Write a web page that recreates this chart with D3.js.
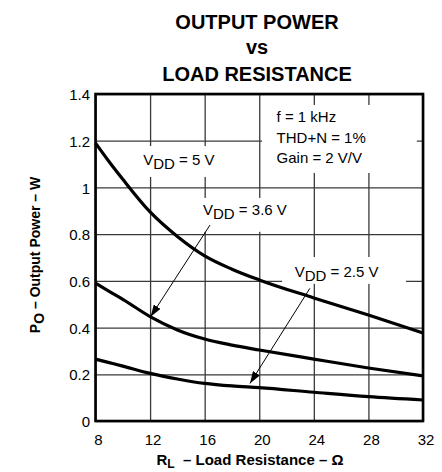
<!DOCTYPE html>
<html>
<head>
<meta charset="utf-8">
<script src="https://cdn.jsdelivr.net/npm/d3@7"></script>
<style>
  body { margin: 0; background: #fff; }
  svg { font-family: "Liberation Sans", Arial, sans-serif; }
</style>
</head>
<body>
<script>
    'use strict';

    // load resistance (ohm)
    var loads = [8, 9, 10, 12, 14, 16, 18, 20, 24, 28, 32];
    // output power (W) per supply voltage
    var p5v0 = [1.19, 1.11, 1.035, 0.895, 0.79, 0.707, 0.65, 0.604, 0.527, 0.454, 0.377];
    var p3v6 = [0.59, 0.555, 0.521, 0.447, 0.39, 0.351, 0.325, 0.304, 0.265, 0.227, 0.193];
    var p2v5 = [0.265, 0.25, 0.235, 0.204, 0.18, 0.161, 0.15, 0.143, 0.123, 0.104, 0.09];

    var xTicks = [8, 12, 16, 20, 24, 28, 32];
    var yTicks = [0, 0.2, 0.4, 0.6, 0.8, 1, 1.2, 1.4];
    var yTickLabels = ['0', '0.2', '0.4', '0.6', '0.8', '1', '1.2', '1.4'];

(function () {
    var width = 442;
    var height = 472;
    var pl = 95.5, pr = 423, pt = 94, pb = 421;

    var x = d3.scaleLinear().domain([8, 32]).range([pl, pr]);
    var y = d3.scaleLinear().domain([0, 1.4]).range([pb, pt]);

    var svg = d3.select('body')
        .append('svg')
        .attr('width', width)
        .attr('height', height)
        ;

    svg.append('defs')
        .append('marker')
        .attr('id', 'head')
        .attr('viewBox', '0 0 12 8')
        .attr('refX', 12)
        .attr('refY', 4)
        .attr('markerWidth', 12)
        .attr('markerHeight', 8)
        .attr('markerUnits', 'userSpaceOnUse')
        .attr('orient', 'auto')
        .append('path')
        .attr('d', 'M0,0 L12,4 L0,8 Z')
        .attr('fill', '#000')
        ;

    // titles
    var title = svg.append('g')
        .attr('font-weight', 'bold')
        .attr('font-size', 20)
        .attr('text-anchor', 'middle')
        ;
    title.append('text').attr('x', 257).attr('y', 29).text('OUTPUT POWER');
    title.append('text').attr('x', 257).attr('y', 54).text('vs');
    title.append('text').attr('x', 257).attr('y', 81).text('LOAD RESISTANCE');

    // grid + tick labels
    var gx = svg.append('g')
        .attr('transform', 'translate(0,' + pb + ')')
        .call(d3.axisBottom(x).tickValues(xTicks).tickSize(-(pb - pt)).tickPadding(0))
        ;
    var gy = svg.append('g')
        .attr('transform', 'translate(' + pl + ',0)')
        .call(d3.axisLeft(y).tickValues(yTicks).tickSize(-(pr - pl)).tickPadding(0)
            .tickFormat(function (d, i) { return yTickLabels[i]; }))
        ;
    [gx, gy].forEach(function (g) {
        g.select('.domain').remove();
        g.selectAll('line').attr('stroke', '#3a3a3a').attr('stroke-width', 1.3);
        g.selectAll('text')
            .attr('fill', '#000')
            .attr('font-size', 15)
            .attr('font-family', '"Liberation Sans", Arial, sans-serif');
    });
    gx.selectAll('text').attr('y', 24).attr('dy', 0).attr('dx', 2.5);
    gy.selectAll('text').attr('x', -5.5).attr('dy', '0.38em');

    // white boxes behind labels (data units)
    var boxes = [
        [11.26, 17.12, 1.045, 1.177],
        [15.6, 22.6, 0.81, 0.955],
        [21.67, 30.75, 0.587, 0.702],
        [20.2, 31.55, 1.062, 1.353]
    ];
    svg.append('g').selectAll('rect')
        .data(boxes)
        .enter()
        .append('rect')
        .attr('x', function (b) { return x(b[0]); })
        .attr('width', function (b) { return x(b[1]) - x(b[0]); })
        .attr('y', function (b) { return y(b[3]); })
        .attr('height', function (b) { return y(b[2]) - y(b[3]); })
        .attr('fill', '#fff')
        ;

    // curves
    var line = d3.line()
        .x(function (d, i) { return x(loads[i]); })
        .y(function (d) { return y(d); })
        .curve(d3.curveMonotoneX)
        ;
    svg.append('g').selectAll('path')
        .data([p5v0, p3v6, p2v5])
        .enter()
        .append('path')
        .attr('d', line)
        .attr('fill', 'none')
        .attr('stroke', '#000')
        .attr('stroke-width', 3.2)
        ;

    // frame
    svg.append('rect')
        .attr('x', pl).attr('y', pt)
        .attr('width', pr - pl).attr('height', pb - pt)
        .attr('fill', 'none')
        .attr('stroke', '#000')
        .attr('stroke-width', 2.6)
        ;

    // arrows
    var arrows = [
        [16.39, 0.839, 12.04, 0.4465],
        [23.71, 0.568, 19.32, 0.161]
    ];
    svg.append('g').selectAll('line')
        .data(arrows)
        .enter()
        .append('line')
        .attr('x1', function (a) { return x(a[0]); })
        .attr('y1', function (a) { return y(a[1]); })
        .attr('x2', function (a) { return x(a[2]); })
        .attr('y2', function (a) { return y(a[3]); })
        .attr('stroke', '#000')
        .attr('stroke-width', 1)
        .attr('marker-end', 'url(#head)')
        ;

    // curve labels
    var labels = [
        { x: 11.5, y: 1.096, v: '5 V' },
        { x: 15.88, y: 0.882, v: '3.6 V' },
        { x: 22.6, y: 0.618, v: '2.5 V' }
    ];
    labels.forEach(function (l) {
        var t = svg.append('text')
            .attr('x', x(l.x))
            .attr('y', y(l.y))
            .attr('font-size', 15)
            ;
        t.append('tspan').text('V');
        t.append('tspan').attr('dy', 4).attr('font-size', 15).text('DD');
        t.append('tspan').attr('dy', -4).text(' = ' + l.v);
    });

    // conditions
    var cond = ['f = 1 kHz', 'THD+N = 1%', 'Gain = 2 V/V'];
    var condY = [1.281, 1.189, 1.104];
    svg.append('g').selectAll('text')
        .data(cond)
        .enter()
        .append('text')
        .attr('x', x(21.27))
        .attr('y', function (d, i) { return y(condY[i]); })
        .attr('font-size', 15)
        .text(function (d) { return d; })
        ;

    // axis titles
    var xt = svg.append('text')
        .attr('x', 250)
        .attr('y', 465)
        .attr('text-anchor', 'middle')
        .attr('font-weight', 'bold')
        .attr('font-size', 15)
        ;
    xt.append('tspan').text('R');
    xt.append('tspan').attr('dy', 3).attr('font-size', 12).text('L');
    xt.append('tspan').attr('dy', -3).text('\u00a0\u00a0\u2013 Load Resistance \u2013 \u03a9');

    var yt = svg.append('text')
        .attr('transform', 'translate(40,255) rotate(-90)')
        .attr('text-anchor', 'middle')
        .attr('font-weight', 'bold')
        .attr('font-size', 14)
        ;
    yt.append('tspan').text('P');
    yt.append('tspan').attr('dy', 4).attr('font-size', 14).text('O');
    yt.append('tspan').attr('dy', -4).text(' \u2013 Output Power \u2013 W');
})();
</script>
</body>
</html>
